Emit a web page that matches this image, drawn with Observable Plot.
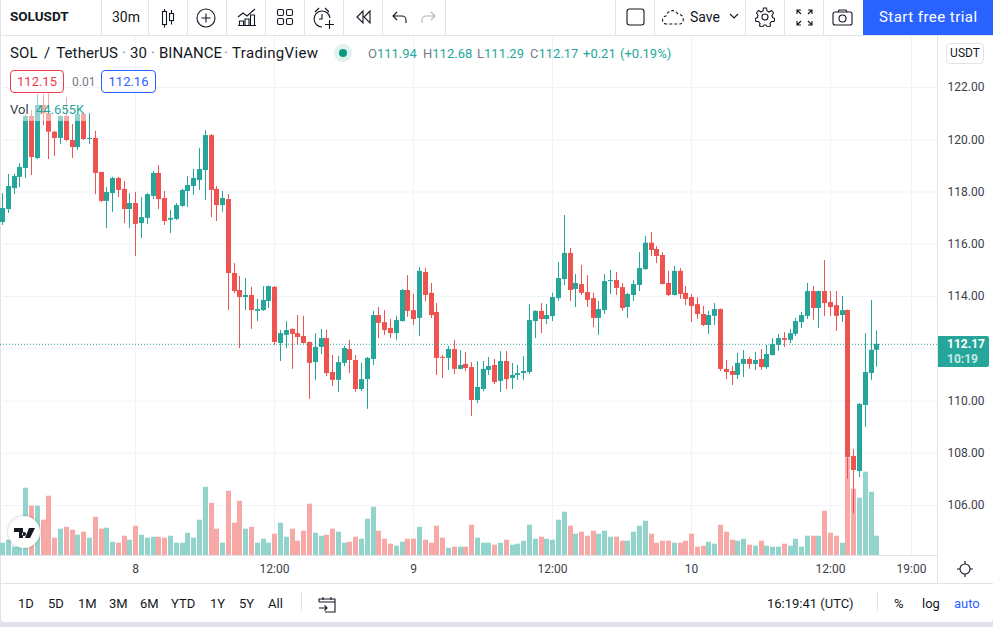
<!DOCTYPE html>
<html><head><meta charset="utf-8">
<script src="https://cdn.jsdelivr.net/npm/d3@7"></script>
<script src="https://cdn.jsdelivr.net/npm/@observablehq/plot@0.6"></script>
<style>
html,body{margin:0;padding:0;background:#e0e3eb;}
#page{position:relative;width:993px;height:627px;overflow:hidden;font-family:Roboto,"Noto Sans",sans-serif;color:#131722;background:#e0e3eb;}
#panel{position:absolute;left:1px;top:0;width:992px;height:622px;background:#fff;border-radius:0 0 4px 4px;}
#chart{position:absolute;left:0;top:36px;}
.t{position:absolute;white-space:nowrap;line-height:1;}
.v{position:absolute;background:#e0e3eb;width:1px;}
.h{position:absolute;background:#e0e3eb;height:1px;}
.ic{position:absolute;fill:none;stroke:#131722;stroke-width:1.1;}
.box{position:absolute;box-sizing:border-box;border-radius:4px;background:#fff;text-align:center;font-size:13px;}
</style></head>
<body><div id="page"><div id="panel"></div><div id="chart"></div><div id="ui"></div></div>
<script>
const firstCandle = "2022-02-07T12:30Z";
const opens = [116.83,117.33,118.13,118.56,118.90,120.89,119.28,121.31,120.99,120.29,
120.05,120.89,119.97,119.70,120.97,120.01,120.05,118.75,117.64,117.94,
118.52,118.10,117.33,117.56,116.79,116.99,117.83,118.71,117.75,116.92,
116.95,117.45,118.02,118.21,118.44,118.82,120.16,118.10,117.48,117.71,
114.88,114.23,113.96,114.04,113.43,113.46,113.81,114.35,112.20,112.51,
112.74,112.58,112.47,112.24,111.47,112.05,112.39,111.09,110.79,111.44,
111.97,111.55,110.44,110.82,111.59,113.27,113.00,112.78,112.58,113.04,
114.23,113.46,113.16,114.92,114.12,113.39,111.67,111.63,111.97,111.21,
111.40,111.28,110.02,110.44,111.17,111.36,110.75,111.51,110.86,110.98,
111.05,111.09,113.04,113.43,113.12,113.23,113.92,114.65,115.65,114.27,
114.46,114.15,113.92,113.16,113.46,114.57,114.61,114.34,113.58,114.04,
114.42,115.03,116.04,115.80,115.57,114.50,114.04,114.96,114.12,113.96,
113.69,113.31,112.89,113.24,113.50,111.21,111.13,110.98,111.40,111.59,
111.40,111.59,111.28,111.74,112.13,112.39,112.32,112.55,113.00,113.24,
114.19,113.54,114.19,113.77,113.65,113.27,113.46,107.88,107.30,109.83,
111.05,111.94];
const highs = [117.94,118.67,118.67,119.09,120.95,121.12,121.73,121.73,121.76,120.32,
120.92,121.62,120.58,121.00,121.00,121.00,120.32,118.75,118.17,118.56,
118.56,118.40,117.94,117.98,117.79,117.94,118.79,119.01,118.02,117.29,
117.56,118.10,118.59,118.86,119.67,120.35,120.20,118.21,118.02,117.90,
115.26,114.77,114.69,114.35,113.89,114.38,114.40,114.38,112.70,113.04,
112.76,113.27,113.24,112.26,112.58,112.74,112.70,111.74,111.70,112.09,
112.32,111.74,111.44,111.67,113.43,113.58,113.46,113.12,113.24,114.27,
114.80,114.08,115.11,115.07,114.50,113.73,111.74,112.09,112.32,111.93,
111.86,111.47,111.51,111.51,111.67,111.59,111.89,111.89,111.44,111.36,
111.70,113.69,113.45,113.73,113.69,114.12,115.30,117.10,115.84,114.84,
115.19,114.80,114.12,113.81,114.84,115.00,114.92,114.50,114.12,114.61,
115.68,116.30,116.45,115.91,115.68,114.96,115.15,115.07,114.38,114.08,
113.96,113.62,113.43,113.73,113.52,111.55,111.32,111.82,111.93,111.67,
111.86,111.97,112.13,112.39,112.55,112.62,112.74,113.16,113.39,114.50,
114.38,114.21,115.38,114.19,114.19,114.00,113.48,108.14,109.90,112.58,
113.85,112.68];
const lows = [116.72,117.18,117.90,118.17,118.52,118.63,119.24,120.55,119.24,119.36,
119.82,119.93,119.28,119.59,119.97,119.82,117.90,117.60,116.60,117.22,
117.79,116.79,116.60,115.53,116.22,116.76,117.71,117.33,116.72,116.41,
116.91,117.41,117.41,117.87,118.06,117.67,117.02,116.87,117.22,113.46,
114.12,112.01,113.46,112.74,113.04,113.43,113.54,112.13,111.51,112.01,
111.21,112.13,112.18,110.06,110.79,111.78,110.94,110.56,110.33,111.32,
111.05,110.33,110.36,109.68,111.36,112.39,112.51,112.39,112.32,113.02,
113.20,112.89,112.47,113.81,113.16,110.98,110.86,111.17,111.01,111.19,
111.13,109.41,109.90,110.36,110.98,110.63,110.33,110.44,110.44,110.79,
110.79,111.01,112.39,112.58,112.93,113.04,113.81,114.42,113.81,113.58,
114.04,113.58,112.81,112.51,113.31,114.08,114.04,113.43,113.16,113.81,
114.19,115.00,115.53,115.26,114.44,114.00,114.02,113.89,113.65,113.00,
113.12,112.85,112.55,112.89,111.13,110.82,110.59,110.82,110.90,111.21,
111.17,111.17,111.21,111.72,111.90,112.05,112.20,112.47,112.78,113.12,
113.08,112.78,113.24,113.24,112.66,113.00,107.00,105.69,107.07,108.99,
110.79,111.29];
const closes = [117.37,118.21,118.59,118.94,120.89,119.32,121.31,120.99,120.29,120.05,
120.89,119.97,119.70,120.97,120.01,120.05,118.71,117.64,117.98,118.52,
118.06,117.33,117.56,116.76,117.02,117.90,118.71,117.71,116.87,116.99,
117.48,118.06,118.25,118.52,118.86,120.16,118.06,117.48,117.75,114.88,
114.19,113.96,114.04,113.46,113.50,113.85,114.38,112.24,112.58,112.70,
112.55,112.43,112.20,111.44,112.05,112.39,111.05,110.79,111.47,112.01,
111.55,110.44,110.82,111.63,113.27,112.97,112.70,112.58,113.08,114.23,
113.43,113.12,114.96,114.04,113.27,111.63,111.63,111.97,111.21,111.36,
111.24,110.02,110.52,111.21,111.32,110.71,111.51,110.82,110.98,111.05,
111.13,113.08,113.43,113.12,113.27,113.96,114.69,115.65,114.23,114.50,
114.12,113.85,113.16,113.50,114.57,114.61,114.31,113.54,114.08,114.46,
115.07,116.04,115.76,115.53,114.46,114.04,114.96,114.08,113.89,113.62,
113.31,112.89,113.27,113.50,111.21,111.09,110.98,111.44,111.59,111.40,
111.55,111.28,111.78,112.16,112.39,112.32,112.58,113.04,113.27,114.19,
113.54,114.19,113.73,113.58,113.24,113.46,107.84,107.34,109.87,111.09,
111.94,112.17];
const volumes = [29.0,35.7,20.1,22.3,151.8,111.6,111.6,80.4,133.9,40.2,
60.3,64.7,58.0,46.9,53.6,40.2,87.0,60.3,62.5,31.2,
29.0,44.6,35.7,67.0,46.9,40.2,42.4,42.4,40.2,44.6,
29.0,29.0,51.3,40.2,80.4,154.0,118.3,60.3,29.0,145.1,
73.7,122.8,60.3,64.7,29.0,37.9,29.0,49.1,73.7,42.4,
60.3,33.5,55.8,116.1,51.3,44.6,46.9,60.3,53.6,29.0,
31.2,42.4,37.9,82.6,109.4,55.8,37.9,26.8,22.3,31.2,
37.9,37.9,64.7,35.7,29.0,67.0,40.2,17.9,20.1,20.1,
20.1,69.2,40.2,29.0,29.0,24.6,29.0,35.7,24.6,26.8,
33.5,69.2,37.9,42.4,37.9,35.7,80.4,98.2,67.0,49.1,
53.6,44.6,55.8,49.1,55.8,42.4,42.4,33.5,33.5,53.6,
67.0,78.1,49.1,29.0,33.5,33.5,29.0,29.0,33.5,49.1,
20.1,22.3,31.2,26.8,69.2,53.6,35.7,33.5,37.9,24.6,
22.3,33.5,22.3,20.1,20.1,26.8,22.3,37.9,20.1,44.6,
44.6,44.6,100.4,51.3,44.6,29.0,219.5,149.5,129.5,187.5,
142.8,44.655];
const priceTicks = [106,108,110,112,114,116,118,120,122];
const priceLabels = [106,108,110,114,116,118,120,122]; // 112.00 sits behind the live price tag
const timeTicks = ["2022-02-08T00:00Z","2022-02-08T12:00Z","2022-02-09T00:00Z","2022-02-09T12:00Z","2022-02-10T00:00Z","2022-02-10T12:00Z","2022-02-10T19:00Z"];
const timeLabels = ["8","12:00","9","12:00","10","12:00","19:00"];
const upColor = "#26a69a", downColor = "#ef5350";
const upVol = "#92d3cc", downVol = "#f7a9a7";

const t0 = +new Date(firstCandle);
const rows = opens.map((o, i) => ({
  x: new Date(t0 + i * 1800000),
  o, h: highs[i], l: lows[i], c: closes[i], v: volumes[i], up: closes[i] >= o
}));
// The volume pane shares the price scale: volume sits on the pane's floor.
const volFloor = 104.06, priceRange = [123.952, 104.048], volUnit = 0.01714;
const tickDates = timeTicks.map(s => new Date(s));
const labelOf = d => timeLabels[tickDates.findIndex(t => +t === +d)];

const svg = Plot.plot({
  width: 993, height: 547,
  marginLeft: 0, marginRight: 56, marginTop: 0, marginBottom: 27,
  style: {background: "transparent", fontFamily: "Roboto, sans-serif", fontSize: "12px", color: "#131722", overflow: "visible"},
  x: {type: "utc", domain: [new Date("2022-02-07T12:19:07Z"), new Date("2022-02-10T21:14:06Z")], round: true},
  y: {type: "linear", domain: [priceRange[1], priceRange[0]]},
  marks: [
    Plot.gridX(tickDates, {stroke: "#f0f3fa", strokeOpacity: 1}),
    Plot.gridY(priceTicks, {stroke: "#f0f3fa", strokeOpacity: 1}),
    Plot.ruleX(rows, {x: "x", y1: volFloor, y2: d => volFloor + d.v * volUnit, stroke: d => d.up ? upVol : downVol, strokeWidth: 5}),
    Plot.ruleX(rows, {x: "x", y1: "l", y2: "h", stroke: d => d.up ? upColor : downColor, strokeWidth: 1}),
    Plot.ruleX(rows, {x: "x", y1: "o", y2: "c", stroke: d => d.up ? upColor : downColor, strokeWidth: 5}),
    Plot.ruleY([closes[closes.length - 1]], {stroke: upColor, strokeDasharray: "1 2", strokeWidth: 1}),
    Plot.axisY(priceLabels, {anchor: "right", tickSize: 0, tickPadding: 10, tickFormat: d3.format(".2f"), label: null, fill: "#3a3e4a"}),
    Plot.axisX(tickDates, {anchor: "bottom", tickSize: 0, tickPadding: 8, tickFormat: labelOf, label: null, fill: "#3a3e4a"})
  ]
});
document.getElementById("chart").appendChild(svg);

// Application chrome around the chart
const ui = document.getElementById("ui");
const put = h => ui.insertAdjacentHTML("beforeend", h);
const T = (s, x, y, size, color, extra = "") => put(`<div class="t" style="left:${x}px;top:${y}px;font-size:${size}px;color:${color};${extra}">${s}</div>`);
const V = (x, y, h) => put(`<div class="v" style="left:${x}px;top:${y}px;height:${h}px"></div>`);
const H = (x, y, w) => put(`<div class="h" style="left:${x}px;top:${y}px;width:${w}px"></div>`);
const I = (x, y, w, h, body, extra = "") => put(`<svg class="ic" style="left:${x}px;top:${y}px;${extra}" width="${w}" height="${h}" viewBox="0 0 ${w} ${h}">${body}</svg>`);

// legend fade behind "Vol"
put(`<div style="position:absolute;left:6px;top:92px;width:80px;height:29px;background:rgba(255,255,255,.5)"></div>`);

H(0, 35, 993); [101,148,187,226,265,304,343,382,445,615,654,745,784,823].forEach(x => V(x, 0, 35));
V(937, 36, 547); H(0, 555, 937); H(0, 583, 993); V(877, 592, 19); V(301, 592, 19);

T("SOLUSDT", 10, 10, 13.5, "#131722", "font-weight:700");
T("30m", 112, 10, 14, "#131722");
put(`<div style="position:absolute;left:863px;top:0;width:130px;height:35px;background:#2962ff"></div>`);
T("Start free trial", 879, 10, 15, "#fff", "letter-spacing:.45px");
T("Save", 690, 10, 14, "#131722");

// toolbar icons
I(160,8,16,20,'<rect x="2.5" y="3.5" width="4" height="13"/><path d="M4.5 1v2.500M4.500 16.500v3"/><rect x="9.500" y="5.500" width="4" height="7"/><path d="M11.500 2v3.500M11.500 12.500v4"/>');
I(196,8,20,20,'<circle cx="10" cy="10" r="9"/><path d="M10 5.500v9M5.500 10h9"/>');
I(237,7,20,20,'<path d="M1 10l5-4 4 3 8-7M1 18.500h18M2.500 18v-4h4v4M8 18v-6h4v6M13.500 18v-10h4v10"/>');
I(276,8,18,20,'<rect x="1.500" y="1.500" width="6" height="6" rx="1.500"/><rect x="10.500" y="1.500" width="6" height="6" rx="1.500"/><rect x="1.500" y="10.500" width="6" height="6" rx="1.500"/><rect x="10.500" y="10.500" width="6" height="6" rx="1.500"/>');
I(313,7,22,22,'<path d="M9 20a8 8 0 1 1 8-9M9 7v5h-3M2 5l4-4M12 1l4 4M12 17.500h9M16.500 13v9"/>');
I(355,9,16,17,'<path d="M8 2l-6 6 6 6zM15 2l-6 6 6 6z"/>');
I(392,10,16,15,'<path d="M5 2L1 6l4 4M1 6h9a4 4 0 0 1 4 4v3"/>');
I(420,10,16,15,'<path d="M11 2l4 4-4 4M15 6H6a4 4 0 0 0-4 4v3"/>', "stroke:#b2b5be");
I(626,8,19,19,'<rect x="1" y="1" width="17" height="16" rx="2.500"/>');
I(662,8,24,18,'<path d="M5 16a4 4 0 0 1-1-8c1-5 8-8 12-2 4 0 6 4 5 7-1 2-2 3-3 3z" stroke-dasharray="3 2"/>');
I(729,12,11,8,'<path d="M1 2l4 4 4-4"/>');
I(755,7,20,20,'<circle cx="10" cy="10" r="3"/><path d="M8.500 1h3l.5 3 2 1 2.500-1.500 2 2.500-1.500 2.500.5 2 2.500 1-1 3-2.500 0-1.500 2 .5 2.500-3 1-1.500-2h-2l-1.500 2-3-1 .5-2.500-1.500-2-2.500 0-1-3 2.500-1 .5-2L1.500 6l2-2.500L6 5l2-1z"/>');
I(796,9,17,17,'<path d="M1 5V1h4M1 1l4 4M12 1h4v4M16 1l-4 4M1 12v4h4M1 16l4-4M16 12v4h-4M16 16l-4-4"/>');
I(832,9,21,17,'<rect x="1" y="3" width="19" height="13" rx="2"/><circle cx="10.500" cy="9.500" r="3.500"/><path d="M6 3l1-2h7l1 2"/>');

// legend
T("SOL / TetherUS", 10, 46, 15, "#131722", "word-spacing:2.500px;letter-spacing:.1px");
T("·", 122, 46, 15, "#787b86");
T("30", 130, 46, 15, "#131722");
T("·", 151, 46, 15, "#787b86");
T("BINANCE", 159, 46, 15, "#131722");
T("·", 224, 46, 15, "#787b86");
T("TradingView", 232, 46, 15, "#131722", "letter-spacing:.35px");
put(`<div style="position:absolute;left:334px;top:44px;width:18px;height:18px;border-radius:50%;background:#dff2ee"></div><div style="position:absolute;left:339px;top:49px;width:8px;height:8px;border-radius:50%;background:#089981"></div>`);
const g = s => `<span style="color:#26a69a">${s}</span>`;
T(`O${g("111.94")}`, 368, 47, 13, "#787b86");
T(`H${g("112.68")}`, 423, 47, 13, "#787b86");
T(`L${g("111.29")}`, 477, 47, 13, "#787b86");
T(`C${g("112.17")}`, 530, 47, 13, "#787b86");
T(g("+0.21"), 583, 47, 13, "#787b86");
T(g("(+0.19%)"), 620, 47, 13, "#787b86");
put(`<div class="box" style="left:10px;top:70px;width:54px;height:23px;border:1px solid #ef3b4a;color:#ef3b4a;line-height:21px">112.15</div>`);
T("0.01", 72, 76, 12, "#787b86");
put(`<div class="box" style="left:101px;top:70px;width:55px;height:23px;border:1px solid #2962ff;color:#2962ff;line-height:21px">112.16</div>`);
T("Vol", 10, 103, 13, "#3a3e4a");
T("44.655K", 36, 103, 13, "#26a69a");
put(`<div class="box" style="left:946px;top:43px;width:38px;height:21px;border:1px solid #e0e3eb;font-size:12px;line-height:19px">USDT</div>`);

// price tag
put(`<div style="position:absolute;left:938px;top:336px;width:51px;height:31px;background:#26a69a;border-radius:0 2px 2px 0"></div>`);
T("112.17", 947, 338, 12, "#fff", "font-weight:700;height:12px");
T("10:19", 947, 353, 12, "#c9e9e5", "font-weight:700;height:12px");

// logo
put(`<div style="position:absolute;left:8px;top:516px;width:32px;height:32px;border-radius:50%;background:#fff;box-shadow:0 0 3px rgba(0,0,0,.25)"></div>`);
I(13,527,23,13,'<path d="M1 1h9v10H6V5H1zM11 5a2 2 0 1 0 .01 0zM16 1h6l-5 10h-5z" fill="#131722" stroke="none"/>');

// bottom bar
[["1D",18],["5D",48],["1M",78],["3M",109],["6M",140],["YTD",171],["1Y",210],["5Y",239],["All",268]].forEach(([s,x]) => T(s, x, 597, 13, "#131722"));
I(318,595,18,18,'<path d="M1 7V4h16v13H7M1 7h16M5 2v3M13 2v3M1 13h8M6.500 10.500L9 13l-2.500 2.500"/>');
T("16:19:41 (UTC)", 767, 597, 13, "#131722");
T("%", 894, 597, 13, "#131722");
T("log", 922, 597, 13, "#131722");
T("auto", 954, 597, 13, "#2962ff");
I(956,560,18,18,'<circle cx="9" cy="9" r="5"/><path d="M9 1v3M9 14v3M1 9h3M14 9h3"/>');
</script>
</body></html>
